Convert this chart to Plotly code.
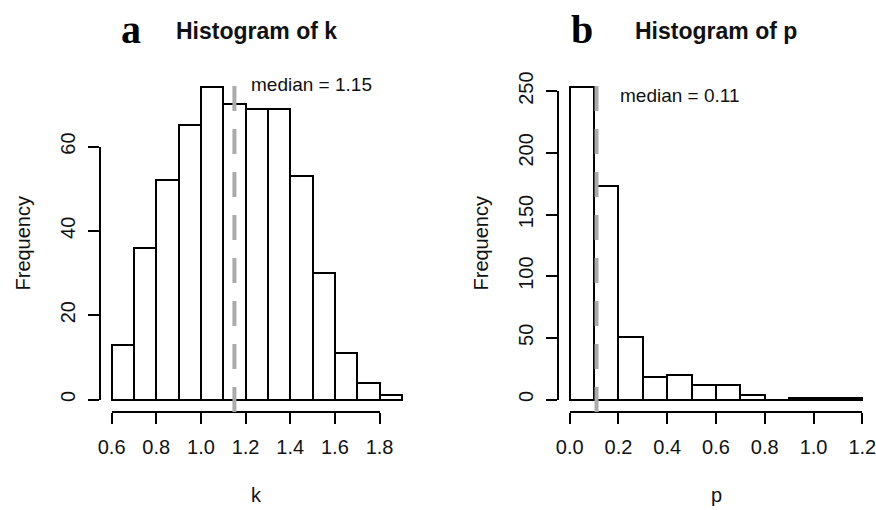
import plotly.graph_objects as go

# ---------------- data ----------------
k_edges = [0.6, 0.7, 0.8, 0.9, 1.0, 1.1, 1.2, 1.3, 1.4, 1.5, 1.6, 1.7, 1.8, 1.9]
k_counts = [13, 36, 52, 65, 74, 70, 69, 69, 53, 30, 11, 4, 1]
k_median = 1.15
k_xticks = [0.6, 0.8, 1.0, 1.2, 1.4, 1.6, 1.8]
k_xticklabels = ["0.6", "0.8", "1.0", "1.2", "1.4", "1.6", "1.8"]
k_yticks = [0, 20, 40, 60]

p_edges = [0.0, 0.1, 0.2, 0.3, 0.4, 0.5, 0.6, 0.7, 0.8, 0.9, 1.0, 1.1, 1.2]
p_counts = [253, 173, 51, 18, 20, 12, 12, 4, 0, 1, 1, 1]
p_median = 0.11
p_xticks = [0.0, 0.2, 0.4, 0.6, 0.8, 1.0, 1.2]
p_xticklabels = ["0.0", "0.2", "0.4", "0.6", "0.8", "1.0", "1.2"]
p_yticks = [0, 50, 100, 150, 200, 250]

# ---------------- layout constants (pixels) ----------------
W, H = 876, 510
FONT = "Liberation Sans, Arial, sans-serif"
SERIF = "Liberation Serif, Times New Roman, serif"
panels = [
    dict(name="k", letter="a", edges=k_edges, counts=k_counts, med=k_median,
         xt=k_xticks, xtl=k_xticklabels, yt=k_yticks, box=(100, 413.5, 75, 412),
         med_y=74.7, med_shift=15, med_text="median = 1.15"),
    dict(name="p", letter="b", edges=p_edges, counts=p_counts, med=p_median,
         xt=p_xticks, xtl=p_xticklabels, yt=p_yticks, box=(558, 874, 75, 412),
         med_y=246.5, med_shift=21, med_text="median = 0.11"),
]


def fx(px):
    return px / W


def fy(py):
    return 1 - py / H


fig = go.Figure()
layout = dict(width=W, height=H, margin=dict(l=0, r=0, t=0, b=0, autoexpand=False),
              plot_bgcolor="rgba(0,0,0,0)", paper_bgcolor="white", showlegend=False,
              bargap=0, font=dict(family=FONT, color="black", size=20))
shapes, annotations = [], []

for i, pn in enumerate(panels):
    xa = "x" if i == 0 else "x2"
    ya = "y" if i == 0 else "y2"
    xo = "x%d" % (3 + 2 * i)
    yo = "y%d" % (4 + 2 * i)
    edges, counts = pn["edges"], pn["counts"]
    e0, e1 = edges[0], edges[-1]
    xr = [e0 - 0.04 * (e1 - e0), e1 + 0.04 * (e1 - e0)]
    cmax = max(counts)
    yr = [-0.04 * cmax, 1.04 * cmax]
    L, R, T, B = pn["box"]
    xdom = [fx(L), fx(R)]
    ydom = [fy(B), fy(T)]

    centers = [(edges[j] + edges[j + 1]) / 2 for j in range(len(counts))]
    widths = [edges[j + 1] - edges[j] for j in range(len(counts))]
    fig.add_trace(go.Bar(x=centers, y=counts, width=widths, xaxis=xa, yaxis=ya,
                         marker=dict(color="white", line=dict(color="black", width=2)),
                         hoverinfo="skip"))

    # R-style axes spanning only the tick range
    def mapx(v):
        return xdom[0] + (v - xr[0]) / (xr[1] - xr[0]) * (xdom[1] - xdom[0])

    def mapy(v):
        return ydom[0] + (v - yr[0]) / (yr[1] - yr[0]) * (ydom[1] - ydom[0])

    xt, yt = pn["xt"], pn["yt"]
    fig.add_trace(go.Scatter(x=[xt[0]], y=[yt[0]], xaxis=xo, yaxis=yo, mode="markers",
                             marker=dict(opacity=0), hoverinfo="skip"))

    key_x = "xaxis" if i == 0 else "xaxis2"
    key_y = "yaxis" if i == 0 else "yaxis2"
    layout[key_x] = dict(domain=xdom, range=xr, visible=False, anchor=ya, automargin=False)
    layout[key_y] = dict(domain=ydom, range=yr, visible=False, anchor=xa, automargin=False)
    layout["xaxis%d" % (3 + 2 * i)] = dict(
        domain=[mapx(xt[0]), mapx(xt[-1])], range=[xt[0], xt[-1]], automargin=False,
        anchor="free", position=ydom[0], showline=True, linecolor="black", linewidth=2,
        ticks="outside", ticklen=11, tickwidth=2, tickcolor="black",
        tickvals=xt, ticktext=pn["xtl"], showgrid=False, zeroline=False,
        ticklabeloverflow="allow",
        tickfont=dict(size=20, family=FONT, color="#111"), ticklabelstandoff=6)
    layout["yaxis%d" % (4 + 2 * i)] = dict(
        domain=[mapy(yt[0]), mapy(yt[-1])], range=[yt[0], yt[-1]], automargin=False,
        anchor="free", position=xdom[0], showline=True, linecolor="black", linewidth=2,
        ticks="outside", ticklen=11, tickwidth=2, tickcolor="black",
        tickvals=yt, ticktext=[str(v) for v in yt], tickangle=-90,
        showgrid=False, zeroline=False, ticklabeloverflow="allow",
        tickfont=dict(size=20, family=FONT, color="#111"), ticklabelstandoff=5)

    # median line
    shapes.append(dict(type="line", xref=xa, yref=ya + " domain", x0=pn["med"], x1=pn["med"],
                       y0=0, y1=1, layer="above",
                       line=dict(color="#ABABAB", width=4, dash="25px,18px")))
    annotations.append(dict(text=pn["med_text"], x=pn["med"], y=pn["med_y"], xref=xa, yref=ya,
                            xanchor="left", yanchor="middle", xshift=pn["med_shift"],
                            showarrow=False, font=dict(size=19, family=FONT, color="#111")))
    # titles
    cx = (xdom[0] + xdom[1]) / 2
    annotations.append(dict(text="<b>Histogram of %s</b>" % pn["name"], x=cx, y=fy(31),
                            xref="paper", yref="paper", xanchor="center", yanchor="middle",
                            showarrow=False, font=dict(size=23, family=FONT, color="#111")))
    annotations.append(dict(text="<b>%s</b>" % pn["letter"], x=fx(L + 31 if i == 0 else L + 24),
                            y=fy(29), xref="paper", yref="paper", xanchor="center",
                            yanchor="middle", showarrow=False,
                            font=dict(size=40, family=SERIF, color="black")))
    # axis titles
    annotations.append(dict(text=pn["name"], x=cx, y=fy(495), xref="paper", yref="paper",
                            xanchor="center", yanchor="middle", showarrow=False,
                            font=dict(size=20, family=FONT, color="#111")))
    annotations.append(dict(text="Frequency", x=fx(L - 78), y=(ydom[0] + ydom[1]) / 2,
                            xref="paper", yref="paper", xanchor="center", yanchor="middle",
                            textangle=-90, showarrow=False,
                            font=dict(size=20, family=FONT, color="#111")))

layout["shapes"] = shapes
layout["annotations"] = annotations
fig.update_layout(**layout)
fig.write_html("out.html")
